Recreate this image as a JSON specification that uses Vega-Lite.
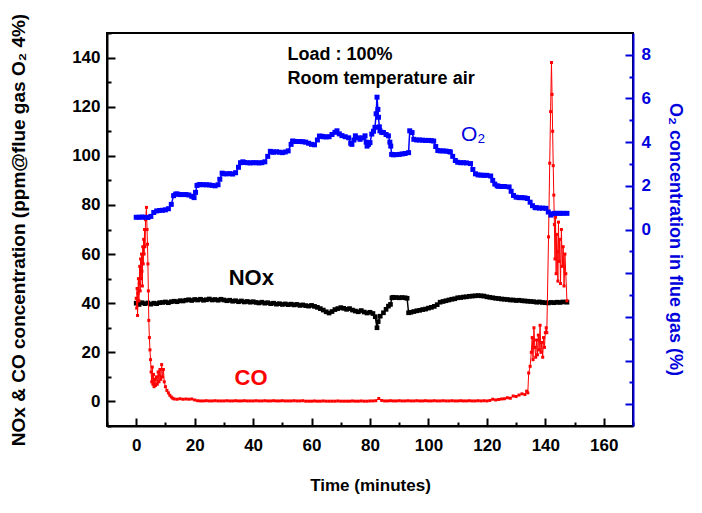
{
  "$schema": "https://vega.github.io/schema/vega-lite/v6.json",
  "width": 526,
  "height": 393,
  "autosize": "none",
  "padding": {"left": 107, "top": 33, "right": 69, "bottom": 87},
  "background": "white",
  "config": {
    "view": {"stroke": "black", "strokeWidth": 2},
    "font": "Liberation Sans",
    "axis": {
      "grid": false, "labelFlush": false, "labelOverlap": false, "format": "d",
      "labelFont": "Liberation Sans", "labelFontSize": 17, "labelFontWeight": "bold",
      "titleFont": "Liberation Sans", "titleFontWeight": "bold",
      "tickWidth": 2, "domainWidth": 2, "tickSize": -8, "tickCount": 100
    },
    "axisBottom": {"labelColor": "black", "tickColor": "black", "domainColor": "black", "titleColor": "black", "titleFontSize": 17, "labelPadding": 19, "titleY": 59, "titleBaseline": "middle"},
    "axisLeft": {"labelColor": "black", "tickColor": "black", "domainColor": "black", "titleColor": "black", "titleFontSize": 19, "labelPadding": 15, "titleX": -89, "titleBaseline": "middle", "titleAngle": -90},
    "axisRight": {"labelColor": "#0000dd", "tickColor": "#0000dd", "domainColor": "#0000dd", "titleColor": "#0000dd", "titleFontSize": 18, "labelPadding": 16, "titleX": 41, "titleY": 206, "titleBaseline": "middle", "titleAngle": 90}
  },
  "datasets": {
    "o2": [
      {"t":0,"v":0.56},{"t":1,"v":0.56},{"t":2,"v":0.57},{"t":3,"v":0.56},{"t":4,"v":0.55},{"t":5,"v":0.6},{"t":6,"v":0.78},{"t":7,"v":0.85},{"t":8,"v":0.87},{"t":9,"v":0.88},{"t":10,"v":0.9},{"t":11,"v":0.95},{"t":12,"v":1.15},{"t":12.8,"v":1.55},{"t":13.5,"v":1.62},{"t":14,"v":1.63},{"t":15,"v":1.6},{"t":16,"v":1.6},{"t":17,"v":1.6},{"t":18,"v":1.58},{"t":19,"v":1.52},{"t":19.8,"v":1.46},{"t":20.3,"v":1.7},{"t":20.8,"v":2.02},{"t":21.5,"v":2.05},{"t":22,"v":2.06},{"t":23,"v":2.05},{"t":24,"v":2.05},{"t":25,"v":2.04},{"t":26,"v":2.02},{"t":27,"v":2.0},{"t":28,"v":2.05},{"t":28.6,"v":2.3},{"t":29.4,"v":2.58},{"t":30,"v":2.55},{"t":31,"v":2.55},{"t":32,"v":2.56},{"t":33,"v":2.54},{"t":34,"v":2.6},{"t":35,"v":2.85},{"t":35.7,"v":3.06},{"t":36.5,"v":3.1},{"t":37,"v":3.07},{"t":38,"v":3.06},{"t":39,"v":3.05},{"t":40,"v":3.06},{"t":41,"v":3.06},{"t":42,"v":3.05},{"t":43,"v":3.06},{"t":44,"v":3.1},{"t":45,"v":3.35},{"t":45.9,"v":3.58},{"t":46.5,"v":3.55},{"t":47,"v":3.54},{"t":48,"v":3.56},{"t":49,"v":3.54},{"t":50,"v":3.52},{"t":51,"v":3.55},{"t":52,"v":3.6},{"t":53,"v":3.9},{"t":53.5,"v":4.05},{"t":54,"v":4.04},{"t":55,"v":4.03},{"t":56,"v":4.03},{"t":57,"v":4.02},{"t":58,"v":4.0},{"t":59,"v":3.95},{"t":60,"v":3.9},{"t":61,"v":3.88},{"t":62,"v":4.1},{"t":62.7,"v":4.28},{"t":63.5,"v":4.27},{"t":64,"v":4.25},{"t":65,"v":4.24},{"t":66,"v":4.25},{"t":67,"v":4.35},{"t":68,"v":4.45},{"t":68.7,"v":4.52},{"t":69.5,"v":4.38},{"t":70.4,"v":4.3},{"t":71.5,"v":4.25},{"t":72.7,"v":4.2},{"t":73.4,"v":3.95},{"t":73.8,"v":3.9},{"t":74.5,"v":4.1},{"t":75,"v":4.29},{"t":76,"v":4.2},{"t":76.6,"v":4.13},{"t":77.5,"v":4.2},{"t":78.3,"v":4.29},{"t":78.7,"v":4.0},{"t":79,"v":3.82},{"t":79.5,"v":3.9},{"t":80,"v":3.98},{"t":80.6,"v":4.37},{"t":81.2,"v":4.5},{"t":81.7,"v":4.68},{"t":82.1,"v":5.3},{"t":82.4,"v":6.06},{"t":82.7,"v":5.5},{"t":82.9,"v":5.14},{"t":83.2,"v":4.7},{"t":83.4,"v":4.52},{"t":84,"v":4.45},{"t":84.6,"v":4.44},{"t":85.5,"v":4.35},{"t":86.3,"v":4.29},{"t":86.8,"v":4.0},{"t":87.1,"v":3.82},{"t":87.4,"v":3.44},{"t":88,"v":3.42},{"t":89,"v":3.43},{"t":90,"v":3.44},{"t":91,"v":3.46},{"t":92,"v":3.48},{"t":93.2,"v":3.52},{"t":93.6,"v":4.52},{"t":94.4,"v":4.44},{"t":95,"v":4.13},{"t":96,"v":4.1},{"t":97,"v":4.1},{"t":98,"v":4.09},{"t":99,"v":4.08},{"t":100,"v":4.08},{"t":101,"v":4.07},{"t":101.8,"v":4.05},{"t":102.5,"v":3.8},{"t":103.2,"v":3.62},{"t":104,"v":3.6},{"t":105,"v":3.6},{"t":106,"v":3.59},{"t":107,"v":3.57},{"t":107.5,"v":3.55},{"t":108.3,"v":3.35},{"t":109.2,"v":3.16},{"t":110,"v":3.08},{"t":111,"v":3.06},{"t":112,"v":3.06},{"t":113,"v":3.05},{"t":114.4,"v":3.02},{"t":115.2,"v":2.75},{"t":116.1,"v":2.55},{"t":117,"v":2.5},{"t":118,"v":2.49},{"t":119,"v":2.48},{"t":120,"v":2.48},{"t":121.3,"v":2.45},{"t":122,"v":2.25},{"t":122.7,"v":2.08},{"t":123.5,"v":2.0},{"t":124,"v":1.98},{"t":125,"v":1.97},{"t":126,"v":1.97},{"t":127.6,"v":1.95},{"t":128.3,"v":1.75},{"t":129.1,"v":1.56},{"t":130,"v":1.48},{"t":131,"v":1.46},{"t":132,"v":1.46},{"t":133,"v":1.45},{"t":133.9,"v":1.42},{"t":134.8,"v":1.25},{"t":135.6,"v":1.09},{"t":136.5,"v":1.0},{"t":137,"v":1.0},{"t":138,"v":0.98},{"t":139,"v":0.98},{"t":140.2,"v":0.97},{"t":141,"v":0.8},{"t":141.9,"v":0.66},{"t":142.5,"v":0.72},{"t":143.2,"v":0.74},{"t":144,"v":0.74},{"t":145,"v":0.74},{"t":146,"v":0.74},{"t":147.4,"v":0.74}
    ],
    "nox": [
      {"t":0,"v":40},{"t":1,"v":39.5},{"t":2,"v":40.2},{"t":3,"v":39.8},{"t":4,"v":40.1},{"t":5,"v":39.6},{"t":6,"v":40},{"t":7,"v":39.8},{"t":8,"v":40.2},{"t":9,"v":40.3},{"t":10,"v":40.5},{"t":11,"v":40.2},{"t":12,"v":40.6},{"t":13,"v":40.8},{"t":14,"v":40.6},{"t":15,"v":41},{"t":16,"v":40.9},{"t":17,"v":41.2},{"t":18,"v":41.4},{"t":19,"v":41.1},{"t":20,"v":41.5},{"t":21,"v":41.3},{"t":22,"v":41.6},{"t":23,"v":41.2},{"t":24,"v":41.4},{"t":25,"v":41.7},{"t":26,"v":41.3},{"t":27,"v":41.5},{"t":28,"v":41.2},{"t":29,"v":41.6},{"t":30,"v":41.3},{"t":31,"v":41.0},{"t":32,"v":41.2},{"t":33,"v":40.8},{"t":34,"v":41.0},{"t":35,"v":40.6},{"t":36,"v":40.9},{"t":37,"v":40.5},{"t":38,"v":40.7},{"t":39,"v":40.4},{"t":40,"v":40.6},{"t":41,"v":40.3},{"t":42,"v":40.1},{"t":43,"v":40.4},{"t":44,"v":40.0},{"t":45,"v":40.2},{"t":46,"v":39.8},{"t":47,"v":40.0},{"t":48,"v":39.6},{"t":49,"v":39.8},{"t":50,"v":39.5},{"t":51,"v":39.7},{"t":52,"v":39.4},{"t":53,"v":39.6},{"t":54,"v":39.3},{"t":55,"v":39.5},{"t":56,"v":39.1},{"t":57,"v":39.3},{"t":58,"v":39.0},{"t":59,"v":38.8},{"t":60,"v":39.1},{"t":61,"v":38.7},{"t":62,"v":38.3},{"t":63,"v":37.8},{"t":64,"v":37.2},{"t":65,"v":36.5},{"t":66,"v":36.0},{"t":67,"v":36.6},{"t":68,"v":37.4},{"t":69,"v":37.8},{"t":70,"v":38.2},{"t":71,"v":37.9},{"t":72,"v":37.5},{"t":73,"v":37.8},{"t":74,"v":37.2},{"t":75,"v":36.8},{"t":76,"v":36.5},{"t":77,"v":37.0},{"t":78,"v":36.4},{"t":79,"v":36.0},{"t":80,"v":36.3},{"t":81,"v":35.8},{"t":81.8,"v":34.5},{"t":82.4,"v":30.0},{"t":82.8,"v":32.5},{"t":83.5,"v":34.7},{"t":84.6,"v":36.1},{"t":85.5,"v":37.5},{"t":86.3,"v":38.8},{"t":87,"v":39.5},{"t":87.5,"v":42.2},{"t":88,"v":42.4},{"t":89,"v":42.3},{"t":90,"v":42.2},{"t":91,"v":42.3},{"t":92,"v":42.2},{"t":92.7,"v":42.0},{"t":93.2,"v":36.1},{"t":94,"v":36.3},{"t":95,"v":36.6},{"t":96,"v":36.9},{"t":97,"v":37.1},{"t":98,"v":37.4},{"t":99,"v":37.6},{"t":100,"v":38.0},{"t":101,"v":38.3},{"t":102,"v":38.7},{"t":103,"v":39.4},{"t":104,"v":40.4},{"t":105,"v":40.7},{"t":106,"v":41.0},{"t":107,"v":41.3},{"t":108,"v":41.6},{"t":109,"v":41.8},{"t":110,"v":42.2},{"t":111,"v":42.3},{"t":112,"v":42.5},{"t":113,"v":42.6},{"t":114,"v":42.8},{"t":115,"v":42.9},{"t":116,"v":43.0},{"t":117,"v":43.1},{"t":118,"v":43.0},{"t":119,"v":42.9},{"t":120,"v":42.6},{"t":121,"v":42.4},{"t":122,"v":42.2},{"t":123,"v":42.0},{"t":124,"v":41.9},{"t":125,"v":41.7},{"t":126,"v":41.6},{"t":127,"v":41.5},{"t":128,"v":41.3},{"t":129,"v":41.3},{"t":130,"v":41.1},{"t":131,"v":41.2},{"t":132,"v":41.0},{"t":133,"v":40.9},{"t":134,"v":40.8},{"t":135,"v":40.7},{"t":136,"v":40.6},{"t":137,"v":40.4},{"t":138,"v":40.5},{"t":139,"v":40.3},{"t":140,"v":40.2},{"t":141,"v":40.1},{"t":142,"v":40.3},{"t":143,"v":40.2},{"t":144,"v":40.4},{"t":145,"v":40.3},{"t":146,"v":40.5},{"t":147.4,"v":40.4}
    ],
    "co": [
      {"t":0,"v":42},{"t":0.15,"v":38},{"t":0.3,"v":46},{"t":0.45,"v":35},{"t":0.6,"v":44},{"t":0.75,"v":50},{"t":0.9,"v":41},{"t":1.05,"v":48},{"t":1.2,"v":55},{"t":1.35,"v":45},{"t":1.5,"v":58},{"t":1.65,"v":50},{"t":1.8,"v":60},{"t":1.95,"v":53},{"t":2.1,"v":47},{"t":2.25,"v":63},{"t":2.4,"v":56},{"t":2.55,"v":66},{"t":2.7,"v":60},{"t":2.85,"v":70},{"t":3.0,"v":63},{"t":3.2,"v":74},{"t":3.5,"v":79},{"t":3.7,"v":70},{"t":3.85,"v":64},{"t":4.0,"v":56},{"t":4.15,"v":45},{"t":4.3,"v":33},{"t":4.5,"v":26},{"t":4.7,"v":21},{"t":4.9,"v":17},{"t":5.1,"v":12},{"t":5.3,"v":8},{"t":5.5,"v":14},{"t":5.7,"v":7},{"t":5.9,"v":11},{"t":6.1,"v":6},{"t":6.3,"v":9},{"t":6.6,"v":6.5},{"t":6.9,"v":10},{"t":7.2,"v":7},{"t":7.5,"v":12},{"t":7.8,"v":8},{"t":8.1,"v":13},{"t":8.4,"v":9},{"t":8.7,"v":15},{"t":9.0,"v":10},{"t":9.3,"v":13},{"t":9.6,"v":8},{"t":10.0,"v":6},{"t":10.5,"v":4.5},{"t":11,"v":3.5},{"t":11.5,"v":2.5},{"t":12,"v":1.8},{"t":12.5,"v":1.3},{"t":13,"v":1.0},{"t":14,"v":0.9},{"t":15,"v":1.1},{"t":16,"v":0.9},{"t":17,"v":1.0},{"t":18,"v":0.9},{"t":19,"v":1.0},{"t":20,"v":0.6},{"t":21,"v":0.3},{"t":22,"v":0.2},{"t":23,"v":0.2},{"t":24,"v":0.3},{"t":25,"v":0.2},{"t":26,"v":0.2},{"t":27,"v":0.3},{"t":28,"v":0.2},{"t":29,"v":0.2},{"t":30,"v":0.2},{"t":31,"v":0.3},{"t":32,"v":0.2},{"t":33,"v":0.2},{"t":34,"v":0.3},{"t":35,"v":0.2},{"t":36,"v":0.2},{"t":37,"v":0.3},{"t":38,"v":0.2},{"t":39,"v":0.2},{"t":40,"v":0.2},{"t":41,"v":0.3},{"t":42,"v":0.2},{"t":43,"v":0.2},{"t":44,"v":0.3},{"t":45,"v":0.2},{"t":46,"v":0.2},{"t":47,"v":0.3},{"t":48,"v":0.2},{"t":49,"v":0.2},{"t":50,"v":0.3},{"t":51,"v":0.2},{"t":52,"v":0.2},{"t":53,"v":0.2},{"t":54,"v":0.3},{"t":55,"v":0.2},{"t":56,"v":0.2},{"t":57,"v":0.3},{"t":58,"v":0.1},{"t":59,"v":0.1},{"t":60,"v":0.1},{"t":61,"v":0.2},{"t":62,"v":0.1},{"t":63,"v":0.1},{"t":64,"v":0.2},{"t":65,"v":0.1},{"t":66,"v":0.1},{"t":67,"v":0.1},{"t":68,"v":0.1},{"t":69,"v":0.2},{"t":70,"v":0.1},{"t":71,"v":0.1},{"t":72,"v":0.1},{"t":73,"v":0.1},{"t":74,"v":0.2},{"t":75,"v":0.1},{"t":76,"v":0.1},{"t":77,"v":0.2},{"t":78,"v":0.1},{"t":79,"v":0.1},{"t":80,"v":0.2},{"t":81,"v":0.2},{"t":82,"v":0.3},{"t":83,"v":1.2},{"t":84,"v":0.4},{"t":85,"v":0.2},{"t":86,"v":0.2},{"t":87,"v":0.3},{"t":88,"v":0.2},{"t":89,"v":0.2},{"t":90,"v":0.3},{"t":91,"v":0.2},{"t":92,"v":0.2},{"t":93,"v":0.3},{"t":94,"v":0.2},{"t":95,"v":0.2},{"t":96,"v":0.3},{"t":97,"v":0.2},{"t":98,"v":0.2},{"t":99,"v":0.3},{"t":100,"v":0.2},{"t":101,"v":0.2},{"t":102,"v":0.3},{"t":103,"v":0.2},{"t":104,"v":0.2},{"t":105,"v":0.3},{"t":106,"v":0.2},{"t":107,"v":0.2},{"t":108,"v":0.3},{"t":109,"v":0.2},{"t":110,"v":0.2},{"t":111,"v":0.3},{"t":112,"v":0.2},{"t":113,"v":0.2},{"t":114,"v":0.3},{"t":115,"v":0.2},{"t":116,"v":0.2},{"t":117,"v":0.3},{"t":118,"v":0.2},{"t":119,"v":0.3},{"t":120,"v":0.2},{"t":121,"v":0.4},{"t":122,"v":0.9},{"t":123,"v":0.6},{"t":124,"v":0.8},{"t":125,"v":1.0},{"t":126,"v":1.1},{"t":127,"v":1.5},{"t":128,"v":1.3},{"t":129,"v":2.2},{"t":130,"v":2.0},{"t":131,"v":2.6},{"t":132,"v":3.1},{"t":133,"v":2.8},{"t":133.6,"v":4.2},{"t":134,"v":3.5},{"t":134.3,"v":11.6},{"t":134.8,"v":14.3},{"t":135.2,"v":20},{"t":135.5,"v":26},{"t":135.8,"v":17},{"t":136.1,"v":30},{"t":136.4,"v":22},{"t":136.7,"v":18},{"t":137,"v":25},{"t":137.3,"v":19},{"t":137.6,"v":27},{"t":137.9,"v":21},{"t":138.2,"v":31},{"t":138.5,"v":20},{"t":138.8,"v":24},{"t":139.1,"v":18},{"t":139.4,"v":26},{"t":139.7,"v":22},{"t":140,"v":28},{"t":140.3,"v":30},{"t":140.5,"v":28},{"t":141.1,"v":67},{"t":141.5,"v":97},{"t":141.8,"v":118},{"t":142.1,"v":138},{"t":142.3,"v":125},{"t":142.5,"v":110},{"t":142.7,"v":96},{"t":142.9,"v":84},{"t":143.1,"v":72},{"t":143.3,"v":58},{"t":143.5,"v":75},{"t":143.7,"v":52},{"t":143.9,"v":68},{"t":144.1,"v":61},{"t":144.3,"v":49},{"t":144.5,"v":73},{"t":144.7,"v":57},{"t":144.9,"v":66},{"t":145.2,"v":48},{"t":145.5,"v":70},{"t":145.8,"v":55},{"t":146.1,"v":63},{"t":146.4,"v":47},{"t":146.7,"v":60},{"t":147.0,"v":52},{"t":147.4,"v":41}
    ]
  },
  "layer": [
    {
      "layer": [
        {
          "data": {"name": "nox"},
          "mark": {"type": "line", "color": "black", "strokeWidth": 1.5, "point": {"shape": "square", "size": 22, "filled": true, "color": "black"}},
          "encoding": {
            "x": {"field": "t", "type": "quantitative", "title": "Time (minutes)",
              "scale": {"domain": [-10, 170], "nice": false, "zero": false},
              "axis": {
                "values": [-10,0,10,20,30,40,50,60,70,80,90,100,110,120,130,140,150,160,170],
                "tickCount": 100, "format": "d",
                "labelExpr": "datum.value >= 0 && datum.value <= 160 && datum.value % 20 == 0 ? datum.label : ''",
                "tickDash": {"condition": {"test": "datum.value % 20 == 0", "value": [20, 1]}, "value": [4, 40]}
              }
            },
            "y": {"field": "v", "type": "quantitative", "title": "NOx & CO concentration (ppm@flue gas O₂ 4%)",
              "scale": {"domain": [-10, 150], "nice": false, "zero": false},
              "axis": {
                "orient": "left",
                "values": [-10,0,10,20,30,40,50,60,70,80,90,100,110,120,130,140,150],
                "tickCount": 100, "format": "d",
                "labelExpr": "datum.value >= 0 && datum.value <= 140 && datum.value % 20 == 0 ? datum.label : ''",
                "tickDash": {"condition": {"test": "datum.value % 20 == 0", "value": [20, 1]}, "value": [4, 40]}
              }
            }
          }
        },
        {
          "data": {"name": "co"},
          "mark": {"type": "line", "color": "#ff0000", "strokeWidth": 1, "point": {"shape": "square", "size": 9, "filled": true, "color": "#ff0000"}},
          "encoding": {
            "x": {"field": "t", "type": "quantitative", "title": "Time (minutes)"},
            "y": {"field": "v", "type": "quantitative", "title": "NOx & CO concentration (ppm@flue gas O₂ 4%)"}
          }
        },
        {
          "data": {"values": [{}]},
          "mark": {"type": "text", "text": "Load : 100%", "align": "left", "baseline": "middle", "font": "Liberation Sans", "fontSize": 18, "fontWeight": "bold", "color": "black"},
          "encoding": {
            "x": {"datum": 51.8, "type": "quantitative", "title": "Time (minutes)"},
            "y": {"datum": 140.9, "type": "quantitative", "title": "NOx & CO concentration (ppm@flue gas O₂ 4%)"}
          }
        },
        {
          "data": {"values": [{}]},
          "mark": {"type": "text", "text": "Room temperature air", "align": "left", "baseline": "middle", "font": "Liberation Sans", "fontSize": 18, "fontWeight": "bold", "color": "black"},
          "encoding": {
            "x": {"datum": 51.8, "type": "quantitative", "title": "Time (minutes)"},
            "y": {"datum": 131.3, "type": "quantitative", "title": "NOx & CO concentration (ppm@flue gas O₂ 4%)"}
          }
        },
        {
          "data": {"values": [{}]},
          "mark": {"type": "text", "text": "NOx", "align": "center", "baseline": "middle", "font": "Liberation Sans", "fontSize": 22, "fontWeight": "bold", "color": "black"},
          "encoding": {
            "x": {"datum": 39.4, "type": "quantitative", "title": "Time (minutes)"},
            "y": {"datum": 50.2, "type": "quantitative", "title": "NOx & CO concentration (ppm@flue gas O₂ 4%)"}
          }
        },
        {
          "data": {"values": [{}]},
          "mark": {"type": "text", "text": "CO", "align": "center", "baseline": "middle", "font": "Liberation Sans", "fontSize": 22, "fontWeight": "bold", "color": "#ff0000"},
          "encoding": {
            "x": {"datum": 39.3, "type": "quantitative", "title": "Time (minutes)"},
            "y": {"datum": 9.7, "type": "quantitative", "title": "NOx & CO concentration (ppm@flue gas O₂ 4%)"}
          }
        }
      ]
    },
    {
      "layer": [
        {
          "data": {"name": "o2"},
          "mark": {"type": "line", "color": "#0000ff", "strokeWidth": 1.5, "point": {"shape": "square", "size": 25, "filled": true, "color": "#0000ff"}},
          "encoding": {
            "x": {"field": "t", "type": "quantitative", "title": "Time (minutes)"},
            "y": {"field": "v", "type": "quantitative", "title": "O₂ concentration in flue gas (%)",
              "scale": {"domain": [-9, 9], "nice": false, "zero": false},
              "axis": {
                "orient": "right",
                "values": [-8,-7,-6,-5,-4,-3,-2,-1,0,1,2,3,4,5,6,7,8],
                "tickCount": 100, "format": "d",
                "labelExpr": "datum.value >= 0 && datum.value % 2 == 0 ? datum.label : ''",
                "tickDash": {"condition": {"test": "datum.value % 2 == 0", "value": [20, 1]}, "value": [4, 40]}
              }
            }
          }
        },
        {
          "data": {"values": [{}]},
          "mark": {"type": "text", "text": "O₂", "align": "center", "baseline": "middle", "font": "Liberation Sans", "fontSize": 21, "fontWeight": "normal", "color": "#0000dd"},
          "encoding": {
            "x": {"datum": 115.3, "type": "quantitative", "title": "Time (minutes)"},
            "y": {"datum": 4.33, "type": "quantitative", "title": "O₂ concentration in flue gas (%)"}
          }
        }
      ]
    }
  ],
  "resolve": {"scale": {"y": "independent"}}
}
